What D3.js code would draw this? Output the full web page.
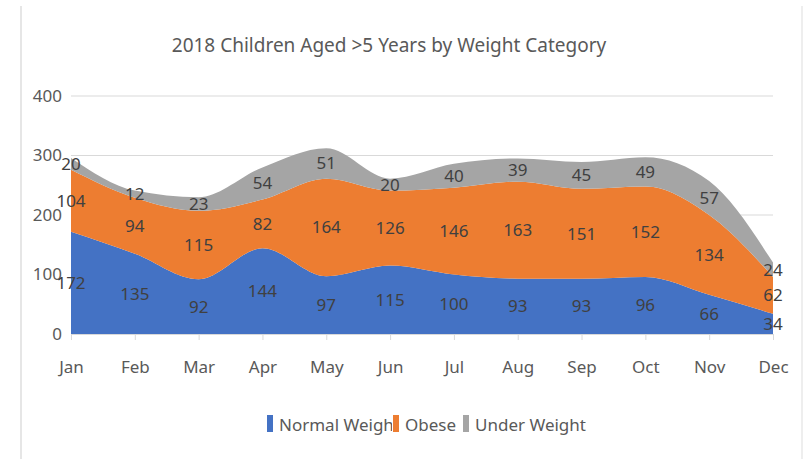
<!DOCTYPE html>
<html>
<head>
<meta charset="utf-8">
<script src="https://cdn.jsdelivr.net/npm/d3@7"></script>
<style>
  body { margin: 0; background: #fff; }
  text { font-family: "Noto Sans", "Open Sans", sans-serif; }
</style>
</head>
<body>
<div id="chart"></div>
<script>
// data
var months = ['Jan', 'Feb', 'Mar', 'Apr', 'May', 'Jun', 'Jul', 'Aug', 'Sep', 'Oct', 'Nov', 'Dec'];
var normalWeight = [172, 135, 92, 144, 97, 115, 100, 93, 93, 96, 66, 34];
var obese = [104, 94, 115, 82, 164, 126, 146, 163, 151, 152, 134, 62];
var underWeight = [20, 12, 23, 54, 51, 20, 40, 39, 45, 49, 57, 24];
var yTicks = [0, 100, 200, 300, 400];

var seriesNames = ['Normal Weight', 'Obese', 'Under Weight'];
var colors = ['#4472C4', '#ED7D31', '#A5A5A5'];

var svgWidth = 803;
var svgHeight = 459;
var margin = { top: 96, right: 30, bottom: 125, left: 71 };
var chartWidth = 773 - margin.left;
var chartHeight = 334 - margin.top;

var svg = d3.select('#chart')
  .append('svg')
  .attr('width', svgWidth)
  .attr('height', svgHeight);

// faint frame edges
svg.append('line').attr('x1', 21).attr('x2', 21).attr('y1', 6).attr('y2', 459)
  .attr('stroke', '#e6e6e6').attr('stroke-width', 2);
svg.append('line').attr('x1', 802).attr('x2', 802).attr('y1', 6).attr('y2', 459)
  .attr('stroke', '#eeeeee').attr('stroke-width', 2);

var chartGroup = svg.append('g')
  .attr('transform', `translate(${margin.left}, ${margin.top})`);

// build rows for the stack
var rows = months.map(function (m, i) {
  return { month: m, 'Normal Weight': normalWeight[i], 'Obese': obese[i], 'Under Weight': underWeight[i] };
});
var stacked = d3.stack().keys(seriesNames)(rows);

var xScale = d3.scalePoint().domain(months).range([0, chartWidth]);
var yScale = d3.scaleLinear().domain([0, 400]).range([chartHeight, 0]);

// gridlines
chartGroup.append('g')
  .selectAll('line')
  .data(yTicks.filter(d => d > 0))
  .enter()
  .append('line')
  .attr('x1', 0)
  .attr('x2', chartWidth)
  .attr('y1', d => yScale(d))
  .attr('y2', d => yScale(d))
  .attr('stroke', '#d9d9d9')
  .attr('stroke-width', 1);

// areas
var area = d3.area()
  .curve(d3.curveMonotoneX)
  .x(d => xScale(d.data.month))
  .y0(d => yScale(d[0]))
  .y1(d => yScale(d[1]));

chartGroup.selectAll('path.area')
  .data(stacked)
  .enter()
  .append('path')
  .attr('class', 'area')
  .attr('d', area)
  .attr('fill', (d, i) => colors[i]);

// x axis
var xAxis = d3.axisBottom(xScale).tickSize(6).tickPadding(21);
var xg = chartGroup.append('g')
  .attr('transform', `translate(0, ${chartHeight})`)
  .call(xAxis);
xg.select('.domain').attr('stroke', '#d9d9d9');
xg.selectAll('.tick line').attr('stroke', '#d9d9d9');
xg.selectAll('text').attr('fill', '#595959').style('font-size', '17px');

// y axis labels
var yAxis = d3.axisLeft(yScale).tickValues(yTicks).tickSize(0).tickPadding(9);
var yg = chartGroup.append('g').call(yAxis);
yg.select('.domain').remove();
yg.selectAll('text').attr('fill', '#595959').style('font-size', '17px');

// data labels in the middle of each band
stacked.forEach(function (layer) {
  chartGroup.append('g')
    .selectAll('text')
    .data(layer)
    .enter()
    .append('text')
    .attr('x', d => xScale(d.data.month))
    .attr('y', d => yScale((d[0] + d[1]) / 2))
    .attr('dy', '0.35em')
    .attr('text-anchor', 'middle')
    .attr('fill', '#404040')
    .style('font-size', '17px')
    .text(d => d[1] - d[0]);
});

// title
svg.append('text')
  .attr('x', 389)
  .attr('y', 52)
  .attr('text-anchor', 'middle')
  .attr('fill', '#595959')
  .style('font-size', '19px')
  .text('2018 Children Aged >5 Years by Weight Category');

// legend (first label is cut off by the next marker, as in the picture)
var legendX = [267, 393, 463];
svg.append('clipPath').attr('id', 'legClip')
  .append('rect').attr('x', 260).attr('y', 400).attr('width', 132).attr('height', 40);
var legend = svg.append('g');
seriesNames.forEach(function (name, i) {
  legend.append('text')
    .attr('x', legendX[i] + 12)
    .attr('y', 431)
    .attr('fill', '#595959')
    .attr('clip-path', i === 0 ? 'url(#legClip)' : null)
    .style('font-size', '17px')
    .text(name);
});
seriesNames.forEach(function (name, i) {
  legend.append('rect')
    .attr('x', legendX[i])
    .attr('y', 415)
    .attr('width', 6)
    .attr('height', 17)
    .attr('fill', colors[i]);
});
</script>
</body>
</html>
